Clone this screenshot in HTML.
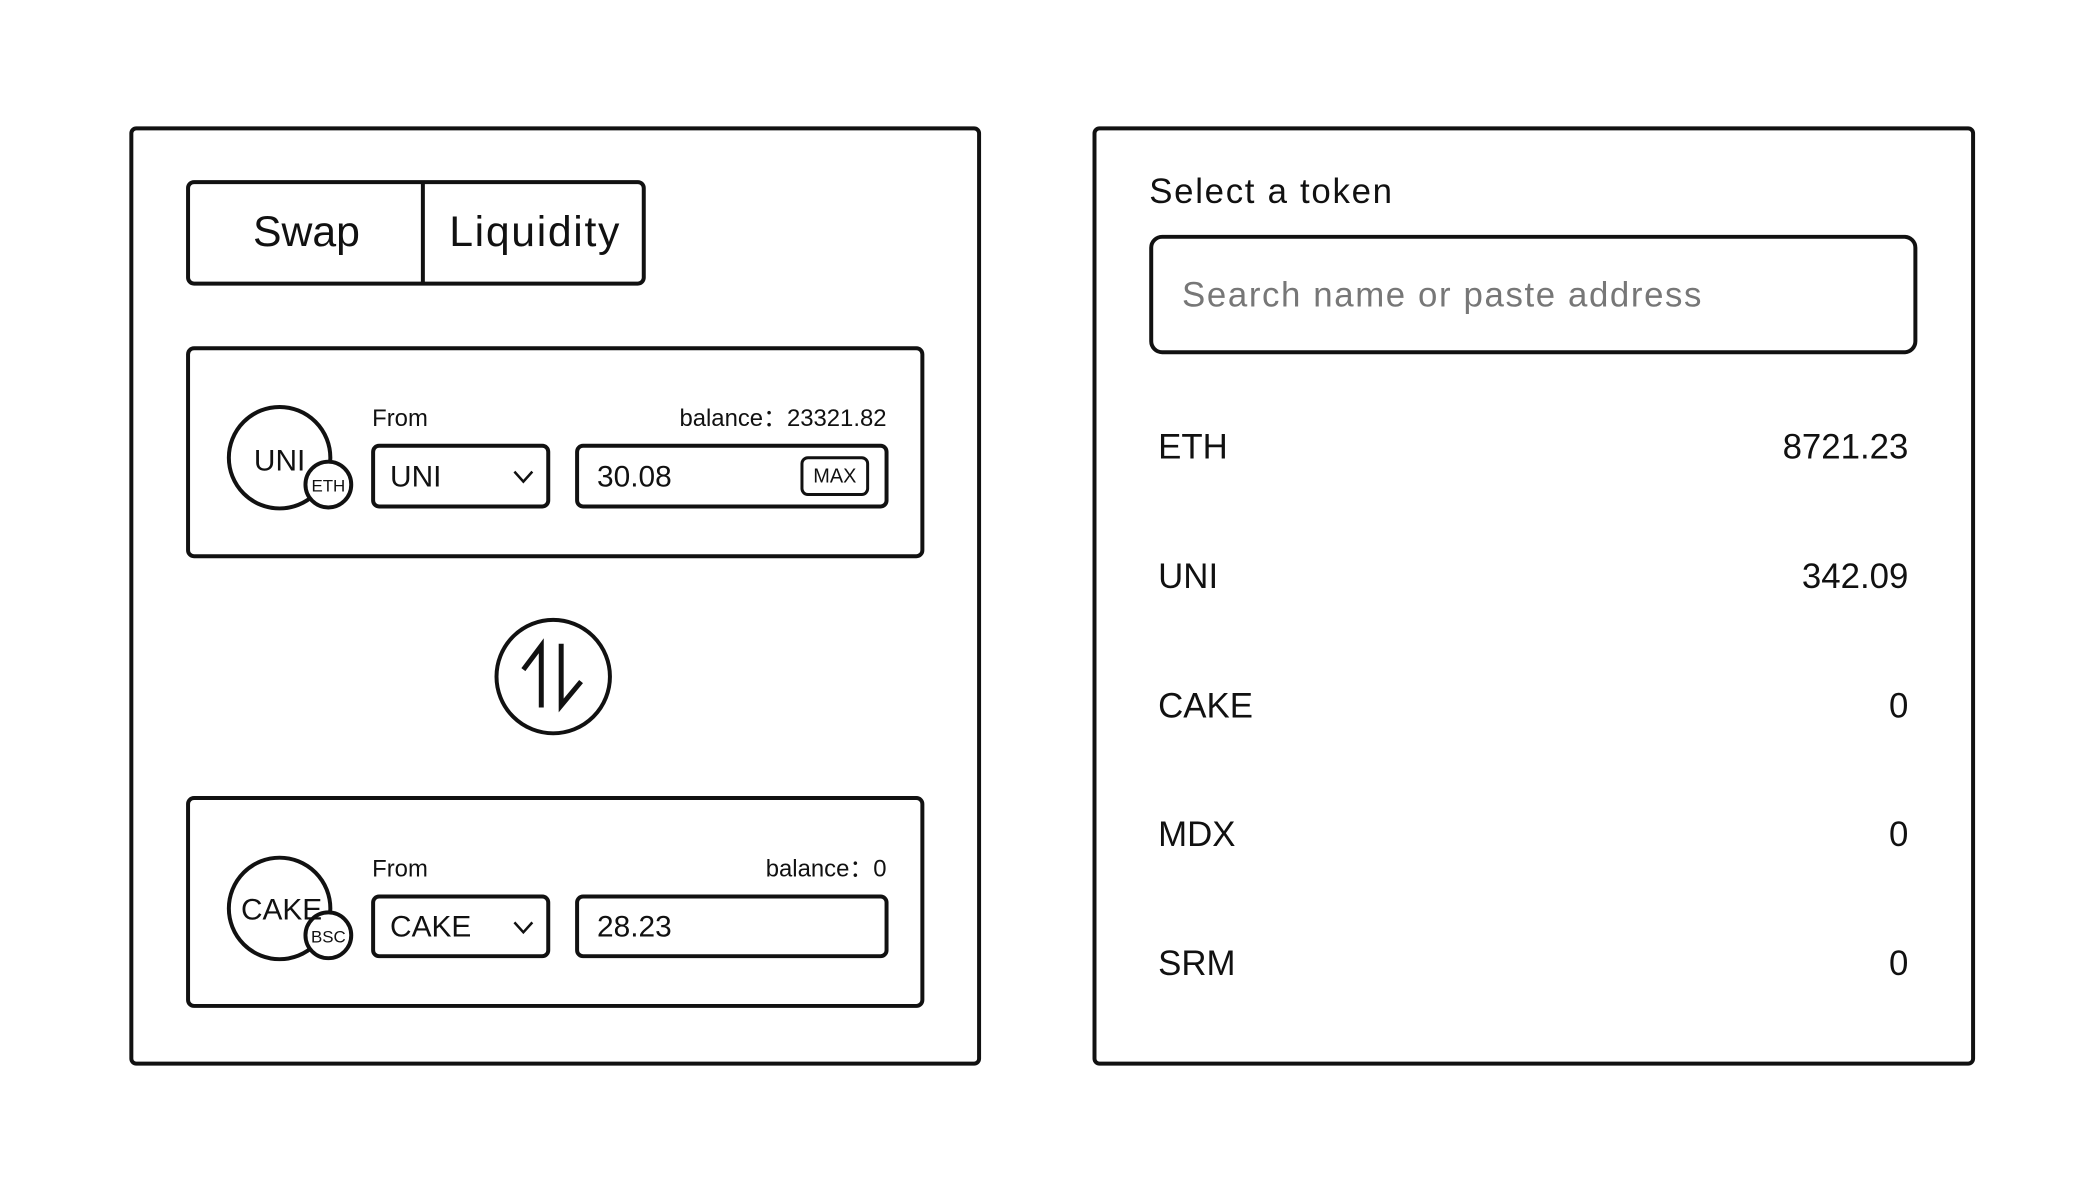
<!DOCTYPE html>
<html><head><meta charset="utf-8"><style>
html,body{margin:0;padding:0;background:#fff;}
svg{display:block;}
text{font-family:"Liberation Sans",sans-serif;fill:#111;}
</style></head><body>
<svg width="2100" height="1197" viewBox="0 0 2100 1197" xmlns="http://www.w3.org/2000/svg">
<rect x="0" y="0" width="2100" height="1197" fill="#fff"/>
<g transform="scale(0.995)">
<g fill="none" stroke="#111" stroke-width="4">
  <rect x="132" y="129" width="852" height="940" rx="5"/>
  <rect x="189" y="183" width="458" height="102" rx="6"/>
  <line x1="425" y1="183" x2="425" y2="285"/>
  <rect x="189" y="350" width="738" height="209" rx="6"/>
  <circle cx="281" cy="460" r="51"/>
  <circle cx="330" cy="487" r="23" fill="#fff"/>
  <rect x="375" y="448" width="176" height="61" rx="6"/>
  <rect x="580" y="448" width="311" height="61" rx="6"/>
  <rect x="806" y="460" width="66" height="37" rx="6" stroke-width="3"/>
  <polyline points="517,474 526,484 535,474" stroke-width="2.5"/>
  <circle cx="556" cy="680" r="57"/>
  <polyline points="526,673 544,649 544,711" stroke-width="5"/>
  <polyline points="564,647 564,709 584,685" stroke-width="5"/>
  <rect x="189" y="802" width="738" height="209" rx="6"/>
  <circle cx="281" cy="913" r="51"/>
  <circle cx="330" cy="940" r="23" fill="#fff"/>
  <rect x="375" y="901" width="176" height="60" rx="6"/>
  <rect x="580" y="901" width="311" height="60" rx="6"/>
  <polyline points="517,927 526,937 535,927" stroke-width="2.5"/>
  <rect x="1100" y="129" width="883" height="940" rx="5"/>
  <rect x="1157" y="238" width="768" height="116" rx="11"/>
</g>
<text x="308" y="247" font-size="43" text-anchor="middle">Swap</text>
<text x="537" y="247" font-size="43" text-anchor="middle" textLength="171">Liquidity</text>
<text x="374" y="428" font-size="24">From</text>
<text x="891" y="428" font-size="24" text-anchor="end">balance：23321.82</text>
<text x="281" y="473" font-size="30" text-anchor="middle">UNI</text>
<text x="330" y="494" font-size="17" text-anchor="middle">ETH</text>
<text x="392" y="489" font-size="30">UNI</text>
<text x="600" y="489" font-size="30">30.08</text>
<text x="839" y="485" font-size="20" text-anchor="middle">MAX</text>
<text x="374" y="881" font-size="24">From</text>
<text x="891" y="881" font-size="24" text-anchor="end">balance：0</text>
<text x="283" y="924" font-size="30" text-anchor="middle">CAKE</text>
<text x="330" y="947" font-size="17" text-anchor="middle">BSC</text>
<text x="392" y="941" font-size="30">CAKE</text>
<text x="600" y="941" font-size="30">28.23</text>
<text x="1155" y="204" font-size="35" textLength="244">Select a token</text>
<text x="1188" y="308" font-size="35" style="fill:#777" textLength="522">Search name or paste address</text>
<g font-size="35">
<text x="1164" y="461">ETH</text><text x="1918" y="461" text-anchor="end">8721.23</text>
<text x="1164" y="591">UNI</text><text x="1918" y="591" text-anchor="end">342.09</text>
<text x="1164" y="721">CAKE</text><text x="1918" y="721" text-anchor="end">0</text>
<text x="1164" y="850">MDX</text><text x="1918" y="850" text-anchor="end">0</text>
<text x="1164" y="980">SRM</text><text x="1918" y="980" text-anchor="end">0</text>
</g>
</g>
</svg>
</body></html>
